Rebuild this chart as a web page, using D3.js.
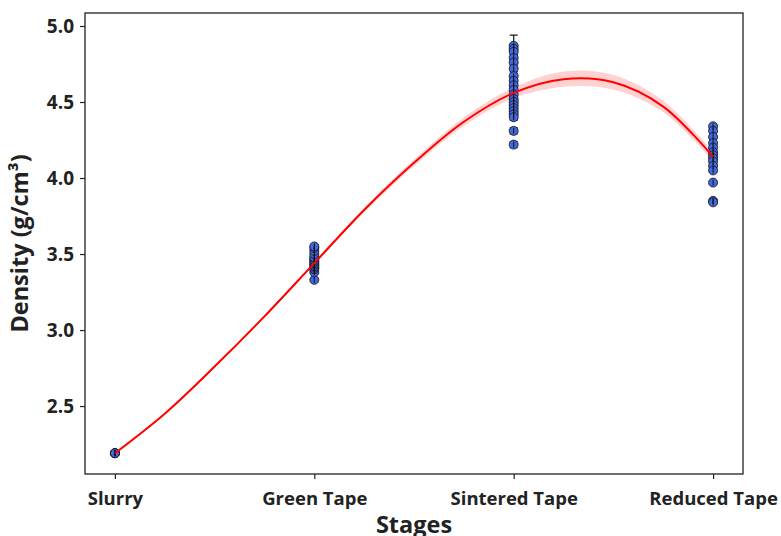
<!DOCTYPE html>
<html>
<head>
<meta charset="utf-8">
<script src="https://cdn.jsdelivr.net/npm/d3@7"></script>
<style>
  body { margin: 0; background: #fff; }
  svg text { font-family: "Open Sans", sans-serif; font-weight: bold; fill: #222; }
</style>
</head>
<body>
<svg id="chart" width="781" height="536"></svg>
<script>
// categories
const stages = ["Slurry", "Green Tape", "Sintered Tape", "Reduced Tape"];

// measured densities per stage (g/cm3)
const slurryDensity = [2.19, 2.19, 2.19, 2.19];
const greenDensity = [3.33, 3.38, 3.40, 3.41, 3.42, 3.43, 3.44, 3.45, 3.46, 3.47, 3.48, 3.50, 3.52, 3.54, 3.55];
const sinteredDensity = [4.87, 4.85, 4.83, 4.79, 4.76, 4.72, 4.67, 4.64, 4.61, 4.58, 4.55, 4.52, 4.50, 4.48, 4.46, 4.44, 4.42, 4.40, 4.31, 4.22];
const reducedDensity = [4.34, 4.31, 4.27, 4.23, 4.20, 4.17, 4.15, 4.13, 4.11, 4.08, 4.05, 3.97, 3.85, 3.84];
// error bar half-widths (only the top sintered one stands out)
const sinteredErr = [0.07, 0.02, 0.02, 0.02, 0.02, 0.02, 0.02, 0.02, 0.02, 0.02, 0.02, 0.02, 0.02, 0.02, 0.02, 0.02, 0.02, 0.02, 0.02, 0.02];

// fitted trend and its confidence band
const fitX = [0, 0.25, 0.5, 0.75, 1, 1.25, 1.5, 1.75, 2, 2.25, 2.5, 2.75, 3];
const fitY = [2.19, 2.45, 2.76, 3.09, 3.44, 3.79, 4.10, 4.37, 4.56, 4.65, 4.63, 4.47, 4.14];
const fitBand = [0.005, 0.006, 0.006, 0.007, 0.01, 0.015, 0.022, 0.028, 0.035, 0.05, 0.048, 0.038, 0.03];

const yTicks = [2.5, 3.0, 3.5, 4.0, 4.5, 5.0];

const margin = {top: 13, right: 38, bottom: 62, left: 85};
const svg = d3.select("#chart");
const width = 781 - margin.left - margin.right;
const height = 536 - margin.top - margin.bottom;

const x = d3.scaleLinear().domain([-0.15, 3.15]).range([0, width]);
const y = d3.scaleLinear().domain([2.053, 5.0855]).range([height, 0]);

const g = svg.append("g").attr("transform", `translate(${margin.left},${margin.top})`);

// band + line
const fit = fitX.map((v, i) => ({x: v, y: fitY[i], b: fitBand[i]}));
g.append("path")
  .datum(fit)
  .attr("fill", "red")
  .attr("fill-opacity", 0.18)
  .attr("d", d3.area()
    .x(d => x(d.x))
    .y0(d => y(d.y - d.b))
    .y1(d => y(d.y + d.b))
    .curve(d3.curveCatmullRom));

// points
const groups = [slurryDensity, greenDensity, sinteredDensity, reducedDensity];
const pts = [];
groups.forEach((arr, i) => arr.forEach((v, j) => {
  pts.push({x: i, y: v, e: i === 2 ? sinteredErr[j] : 0.01});
}));

const eb = g.append("g").attr("stroke", "#111").attr("stroke-width", 1.2);
pts.forEach(d => {
  eb.append("line")
    .attr("x1", x(d.x)).attr("x2", x(d.x))
    .attr("y1", y(d.y - d.e)).attr("y2", y(d.y + d.e));
  [d.y - d.e, d.y + d.e].forEach(c => {
    eb.append("line")
      .attr("x1", x(d.x) - 4).attr("x2", x(d.x) + 4)
      .attr("y1", y(c)).attr("y2", y(c));
  });
});

g.append("g").selectAll("circle")
  .data(pts)
  .join("circle")
  .attr("cx", d => x(d.x))
  .attr("cy", d => y(d.y))
  .attr("r", 4.5)
  .attr("fill", "#4169e1")
  .attr("stroke", "#111")
  .attr("stroke-width", 0.8);

// error bar line drawn over markers as in the original
const eb2 = g.append("g").attr("stroke", "#111").attr("stroke-width", 1);
pts.forEach(d => {
  eb2.append("line")
    .attr("x1", x(d.x)).attr("x2", x(d.x))
    .attr("y1", y(d.y - 0.02)).attr("y2", y(d.y + 0.02));
});

g.append("path")
  .datum(fit)
  .attr("fill", "none")
  .attr("stroke", "red")
  .attr("stroke-width", 2)
  .attr("d", d3.line().x(d => x(d.x)).y(d => y(d.y)).curve(d3.curveCatmullRom));

// axes
const xAxis = g.append("g")
  .attr("transform", `translate(0,${height})`)
  .call(d3.axisBottom(x).tickValues([0, 1, 2, 3]).tickFormat(i => stages[i]).tickSize(5).tickPadding(13));
const yAxis = g.append("g")
  .call(d3.axisLeft(y).tickValues(yTicks).tickFormat(d3.format(".1f")).tickSize(5).tickPadding(6));
[xAxis, yAxis].forEach(a => {
  a.select(".domain").remove();
  a.selectAll("line").attr("stroke", "#222").attr("stroke-width", 1.2);
});
xAxis.selectAll("text").attr("font-size", 18.5);
yAxis.selectAll("text").attr("font-size", 19);

g.append("rect")
  .attr("width", width).attr("height", height)
  .attr("fill", "none").attr("stroke", "#222").attr("stroke-width", 1.3);

g.append("text")
  .attr("x", width / 2).attr("y", height + 59)
  .attr("text-anchor", "middle").attr("font-size", 23.5)
  .text("Stages");

g.append("text")
  .attr("transform", `translate(-57,${height / 2}) rotate(-90)`)
  .attr("text-anchor", "middle").attr("font-size", 23.5)
  .text("Density (g/cm³)");
</script>
</body>
</html>
